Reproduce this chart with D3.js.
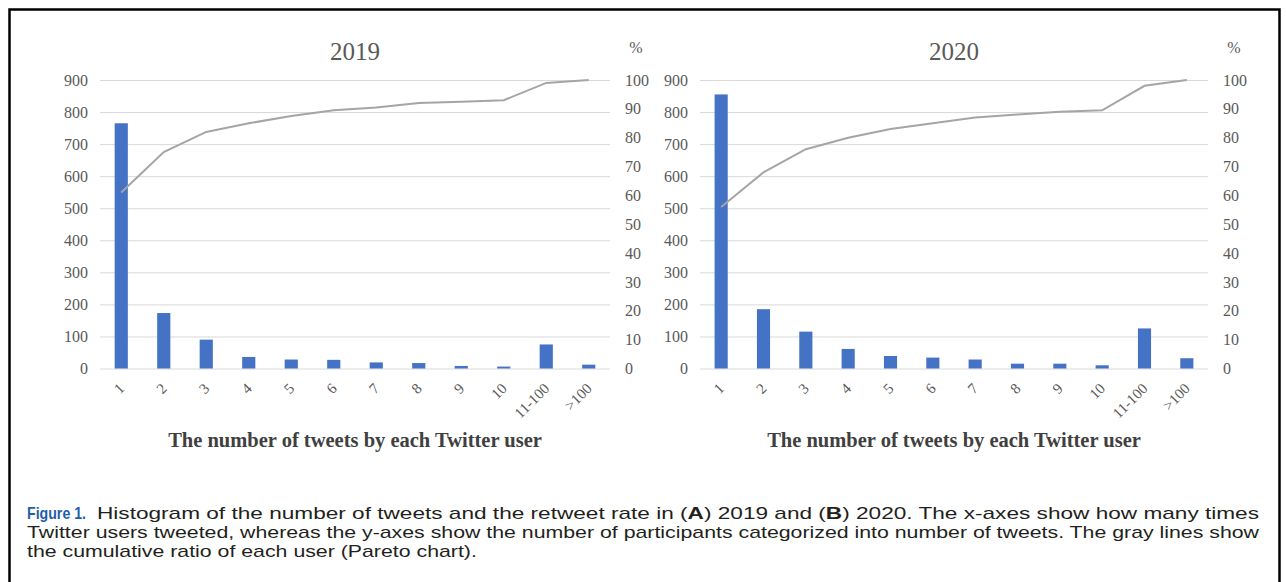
<!DOCTYPE html>
<html>
<head>
<meta charset="utf-8">
<script src="https://cdn.jsdelivr.net/npm/d3@7"></script>
<style>
  body { margin: 0; background: #fff; }
  svg { display: block; }
</style>
</head>
<body>
<div class="figure"></div>
<script>
// tweet count buckets on the x-axis
const categories = ["1", "2", "3", "4", "5", "6", "7", "8", "9", "10", "11-100", ">100"];

// number of users per bucket (bars)
const users2019 = [765, 173, 90, 36, 28, 27, 19, 17, 8, 6, 75, 12];
const users2020 = [855, 185, 115, 61, 39, 34, 28, 15, 15, 10, 125, 32];

// cumulative ratio in % (gray Pareto line)
const cumul2019 = [61, 75, 82, 85, 87.5, 89.5, 90.5, 92, 92.5, 93, 99, 100];
const cumul2020 = [56, 68, 76, 80, 83, 85, 87, 88, 89, 89.5, 98, 100];

const countTicks = [0, 100, 200, 300, 400, 500, 600, 700, 800, 900];
const percentTicks = [0, 10, 20, 30, 40, 50, 60, 70, 80, 90, 100];

var width = 1287;
var height = 582;

var svg = d3.select(".figure")
    .append("svg")
    .attr("width", width)
    .attr("height", height);

// frame round the figure (open at the bottom)
svg.append("path")
    .attr("d", "M9.5,582 V9.5 H1279.5 V582")
    .attr("fill", "none")
    .attr("stroke", "#000")
    .attr("stroke-width", 2.5);

var serif = "'Liberation Serif', 'Times New Roman', serif";

function setupChart(counts, cumul, title, left, right) {

    var top = 80;
    var bottom = 368.5;

    var xScale = d3.scaleBand()
        .domain(categories)
        .range([left, right])
        .paddingInner(0.69)
        .paddingOuter(0.345);

    var yScale = d3.scaleLinear()
        .domain([0, 900])
        .range([bottom, top]);

    var pScale = d3.scaleLinear()
        .domain([0, 100])
        .range([bottom, top]);

    var g = svg.append("g");

    // gridlines + left labels
    var yAxis = g.append("g")
        .attr("transform", `translate(${left},0)`)
        .attr("font-family", serif)
        .attr("font-size", 16)
        .call(d3.axisLeft(yScale).tickValues(countTicks).tickSize(-(right - left)).tickPadding(12));
    yAxis.attr("font-family", serif).attr("font-size", 16);
    yAxis.select(".domain").remove();
    yAxis.selectAll("line").attr("stroke", "#d9d9d9").attr("stroke-width", 1);
    yAxis.selectAll("text").attr("fill", "#595959");

    // right percent labels
    var pAxis = g.append("g")
        .attr("transform", `translate(${right},0)`)
        .call(d3.axisRight(pScale).tickValues(percentTicks).tickSize(0).tickPadding(15));
    pAxis.attr("font-family", serif).attr("font-size", 16);
    pAxis.select(".domain").remove();
    pAxis.selectAll("text").attr("fill", "#595959");

    g.append("text")
        .attr("x", right + 26)
        .attr("y", 53)
        .attr("text-anchor", "middle")
        .attr("fill", "#595959")
        .style("font-family", serif)
        .style("font-size", "16px")
        .text("%");

    // bars
    g.selectAll("rect.bar")
        .data(counts)
        .enter()
        .append("rect")
        .attr("class", "bar")
        .attr("x", function(d, i) { return xScale(categories[i]); })
        .attr("y", function(d) { return yScale(d); })
        .attr("width", xScale.bandwidth())
        .attr("height", function(d) { return bottom - yScale(d); })
        .attr("fill", "#4472c4");

    // Pareto line
    var line = d3.line()
        .x(function(d, i) { return xScale(categories[i]) + xScale.bandwidth() / 2; })
        .y(function(d) { return pScale(d); });

    g.append("path")
        .datum(cumul)
        .attr("d", line)
        .attr("fill", "none")
        .attr("stroke", "#a5a5a5")
        .attr("stroke-width", 2);

    // rotated category labels
    g.selectAll("text.cat")
        .data(categories)
        .enter()
        .append("text")
        .attr("class", "cat")
        .attr("transform", function(d) {
            var cx = xScale(d) + xScale.bandwidth() / 2;
            return `translate(${cx + 4},${bottom + 21}) rotate(-45)`;
        })
        .attr("text-anchor", "end")
        .attr("fill", "#595959")
        .style("font-family", serif)
        .style("font-size", "15px")
        .text(function(d) { return d; });

    g.append("text")
        .attr("x", (left + right) / 2)
        .attr("y", 60)
        .attr("text-anchor", "middle")
        .attr("fill", "#595959")
        .style("font-family", serif)
        .style("font-size", "25px")
        .text(title);

    g.append("text")
        .attr("x", (left + right) / 2)
        .attr("y", 447)
        .attr("text-anchor", "middle")
        .attr("fill", "#404040")
        .style("font-family", serif)
        .style("font-weight", "bold")
        .style("font-size", "20.5px")
        .text("The number of tweets by each Twitter user");
}

setupChart(users2019, cumul2019, "2019", 100, 610);
setupChart(users2020, cumul2020, "2020", 700, 1208);

// caption (condensed look: glyphs squeezed to the widths in the figure)
var sans = "'Liberation Sans', Arial, sans-serif";

svg.append("text")
    .attr("x", 27)
    .attr("y", 519)
    .attr("textLength", 59)
    .attr("lengthAdjust", "spacingAndGlyphs")
    .attr("fill", "#1f5fa6")
    .style("font-family", sans)
    .style("font-weight", "bold")
    .style("font-size", "17px")
    .text("Figure 1.");

var cap1 = svg.append("text")
    .attr("x", 97)
    .attr("y", 519)
    .attr("textLength", 1162)
    .attr("lengthAdjust", "spacingAndGlyphs")
    .attr("fill", "#231f20")
    .style("font-family", sans)
    .style("font-size", "17px");
cap1.append("tspan").text("Histogram of the number of tweets and the retweet rate in (");
cap1.append("tspan").style("font-weight", "bold").text("A");
cap1.append("tspan").text(") 2019 and (");
cap1.append("tspan").style("font-weight", "bold").text("B");
cap1.append("tspan").text(") 2020. The x-axes show how many times");

var captionLines = [
    "Twitter users tweeted, whereas the y-axes show the number of participants categorized into number of tweets. The gray lines show",
    "the cumulative ratio of each user (Pareto chart)."
];

var caps = svg.selectAll("text.caption")
    .data(captionLines)
    .enter()
    .append("text")
    .attr("class", "caption")
    .attr("x", 27)
    .attr("y", function(d, i) { return 538 + i * 19; })
    .attr("fill", "#231f20")
    .style("font-family", sans)
    .style("font-size", "17px")
    .text(function(d) { return d; });

// second line runs to the right edge; third line gets the same squeeze
var squeeze = 1232 / caps.nodes()[0].getComputedTextLength();
caps.each(function() {
    var natural = this.getComputedTextLength();
    d3.select(this)
        .attr("textLength", natural * squeeze)
        .attr("lengthAdjust", "spacingAndGlyphs");
});
</script>
</body>
</html>
